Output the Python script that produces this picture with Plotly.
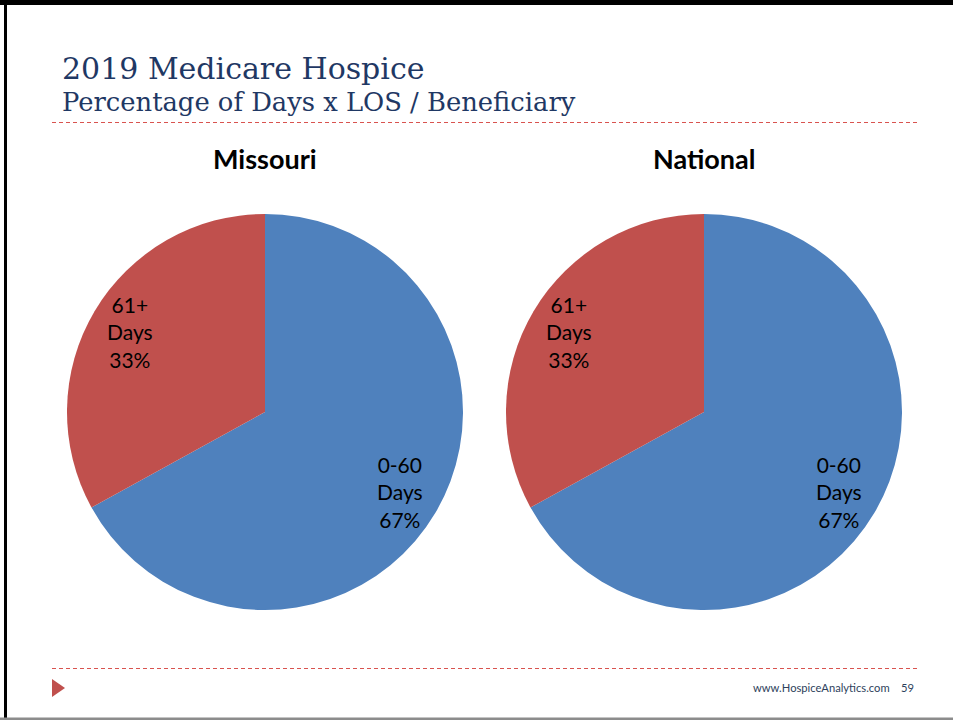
import math
import plotly.graph_objects as go

# Share of hospice days by length of stay
regions = ["Missouri", "National"]
segments = ["0-60 Days", "61+ Days"]
missouri_pct = [67, 33]
national_pct = [67, 33]
series = [missouri_pct, national_pct]

colors = ["#4F81BD", "#C0504D"]
W, H = 953, 720


def px_x(x):
    return x / W


def px_y(y):
    return 1 - y / H


fig = go.Figure()

pie_top, pie_bottom = 214, 610
domains = [(67, 463), (506, 902)]
label_radius = 0.79  # fraction of the pie radius where slice labels sit

for name, vals, (x0, x1) in zip(regions, series, domains):
    fig.add_trace(go.Pie(
        labels=segments,
        values=vals,
        textinfo="none",
        marker=dict(colors=colors, line=dict(width=0)),
        sort=False,
        direction="clockwise",
        rotation=0,
        hoverinfo="label+percent",
        showlegend=False,
        domain=dict(x=[px_x(x0), px_x(x1)], y=[px_y(pie_bottom), px_y(pie_top)]),
        name=name,
    ))
    fig.add_annotation(
        x=px_x((x0 + x1) / 2), y=px_y(158), xref="paper", yref="paper",
        text=f"<b>{name}</b>", showarrow=False,
        font=dict(family="Lato", size=27, color="#000000"),
        xanchor="center", yanchor="middle",
    )

    # slice labels along each slice's bisector (clockwise from 12 o'clock)
    cx, cy = (x0 + x1) / 2, (pie_top + pie_bottom) / 2
    r = (x1 - x0) / 2
    total = sum(vals)
    start = 0.0
    for seg, v in zip(segments, vals):
        mid = (start + v / 2) / total * 2 * math.pi
        start += v
        lx = cx + label_radius * r * math.sin(mid)
        ly = cy - label_radius * r * math.cos(mid)
        fig.add_annotation(
            x=px_x(lx), y=px_y(ly), xref="paper", yref="paper",
            text=seg.replace(" ", "<br>") + f"<br>{v}%", showarrow=False,
            font=dict(family="Lato", size=21, color="#000000"),
            xanchor="center", yanchor="middle", align="center",
        )

navy = "#1F3864"
fig.add_annotation(
    x=px_x(60), y=px_y(68), xref="paper", yref="paper",
    text="2019 Medicare Hospice", showarrow=False,
    font=dict(family="DejaVu Serif", size=30, color=navy),
    xanchor="left", yanchor="middle",
)
fig.add_annotation(
    x=px_x(60), y=px_y(102), xref="paper", yref="paper",
    text="Percentage of Days x LOS / Beneficiary", showarrow=False,
    font=dict(family="DejaVu Serif", size=25.8, color=navy),
    xanchor="left", yanchor="middle",
)
fig.add_annotation(
    x=px_x(916), y=px_y(687), xref="paper", yref="paper",
    text="www.HospiceAnalytics.com&nbsp;&nbsp;&nbsp;&nbsp;59", showarrow=False,
    font=dict(family="Lato", size=11.2, color="#2E3F5C"),
    xanchor="right", yanchor="middle",
)

shapes = [
    # dashed separators
    dict(type="line", xref="paper", yref="paper",
         x0=px_x(52), x1=px_x(917), y0=px_y(122.5), y1=px_y(122.5),
         line=dict(color="#D9534F", width=1, dash="4px,3px")),
    dict(type="line", xref="paper", yref="paper",
         x0=px_x(52), x1=px_x(917), y0=px_y(668.5), y1=px_y(668.5),
         line=dict(color="#D9534F", width=1, dash="4px,3px")),
    # footer marker
    dict(type="path", xref="paper", yref="paper",
         path=f"M {px_x(52)} {px_y(679)} L {px_x(65)} {px_y(688)} L {px_x(52)} {px_y(697)} Z",
         fillcolor="#C0504D", line=dict(width=0)),
    # slide frame
    dict(type="rect", xref="paper", yref="paper",
         x0=0, x1=1, y0=px_y(5), y1=1,
         fillcolor="#000000", line=dict(width=0)),
    dict(type="rect", xref="paper", yref="paper",
         x0=px_x(4), x1=px_x(7), y0=0, y1=1,
         fillcolor="#000000", line=dict(width=0)),
    dict(type="rect", xref="paper", yref="paper",
         x0=0, x1=1, y0=0, y1=px_y(717.5),
         fillcolor="#8C8C8C", line=dict(width=0)),
]

fig.update_layout(
    width=W, height=H,
    margin=dict(l=0, r=0, t=0, b=0),
    paper_bgcolor="#FFFFFF",
    plot_bgcolor="#FFFFFF",
    shapes=shapes,
)

fig.write_html("out.html")
